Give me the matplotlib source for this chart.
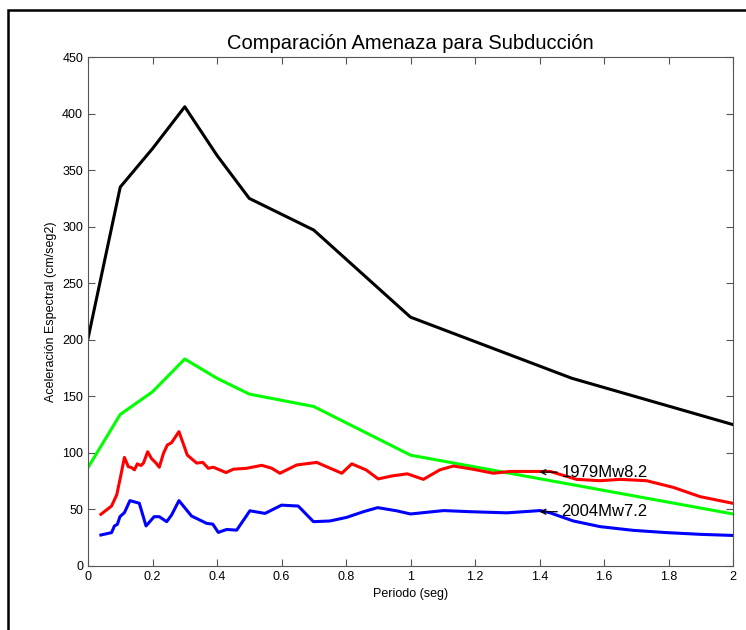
import numpy as np
import matplotlib
matplotlib.use("Agg")
import matplotlib.pyplot as plt
from matplotlib.patches import Rectangle

plt.rcParams['font.family'] = ['Liberation Sans', 'DejaVu Sans']

# espectro de amenaza (negro) y espectro de diseño (verde)
periodo_amenaza = [0.0, 0.1, 0.2, 0.3, 0.4, 0.5, 0.7, 1.0, 1.5, 2.0]
acel_amenaza = [201, 335, 369, 406, 363, 325, 297, 220, 166, 125]

periodo_diseno = [0.0, 0.1, 0.2, 0.3, 0.4, 0.5, 0.7, 1.0, 1.5, 2.0]
acel_diseno = [87, 134, 154, 183, 166, 152, 141, 98, 72, 46]

# registro 1979 Mw8.2
periodo_1979 = [0.040, 0.073, 0.089, 0.101, 0.113, 0.125, 0.135, 0.144, 0.153, 0.164,
                0.172, 0.185, 0.197, 0.211, 0.221, 0.234, 0.246, 0.259, 0.282, 0.308,
                0.337, 0.356, 0.373, 0.389, 0.428, 0.451, 0.492, 0.539, 0.570, 0.595,
                0.647, 0.709, 0.787, 0.818, 0.862, 0.900, 0.942, 0.990, 1.040, 1.091,
                1.133, 1.195, 1.257, 1.309, 1.433, 1.515, 1.588, 1.650, 1.732, 1.815,
                1.898, 2.0]
acel_1979 = [45.7, 53, 62.8, 79, 96, 87.8, 87, 85, 90.3, 88.8,
             91, 101, 95, 91, 87.3, 99.6, 107, 109, 118.8, 98,
             91, 91.6, 86.4, 87.3, 82.6, 85.6, 86.4, 89, 86.4, 82,
             89.3, 91.6, 82, 90.3, 85, 77, 79.6, 81.5, 76.6, 85,
             88.4, 85.5, 82, 83.6, 83.6, 76.6, 75.4, 76.6, 75.4, 69.5,
             61.3, 55.4]

# registro 2004 Mw7.2
periodo_2004 = [0.040, 0.073, 0.082, 0.091, 0.099, 0.113, 0.130, 0.159, 0.180, 0.205,
                0.221, 0.244, 0.259, 0.282, 0.321, 0.368, 0.387, 0.404, 0.430, 0.461,
                0.502, 0.549, 0.600, 0.652, 0.699, 0.750, 0.802, 0.854, 0.898, 0.957,
                1.0, 1.103, 1.185, 1.299, 1.402, 1.433, 1.505, 1.588, 1.691, 1.795,
                1.898, 2.0]
acel_2004 = [27.4, 29.5, 35.4, 36.8, 43.6, 47.2, 57.8, 55.5, 35.4, 43.6,
             43.6, 39.2, 45, 57.8, 44.2, 37.7, 37, 29.7, 32.3, 31.7,
             48.8, 46.5, 53.8, 53, 39.2, 39.8, 43, 48, 51.6, 48.8,
             46, 49, 48, 47, 49, 47, 39.8, 34.8, 31.5, 29.5,
             28, 27]

etiquetas = ['1979Mw8.2', '2004Mw7.2']
pos_etiquetas = [(1.4, 83), (1.4, 48)]

fig = plt.figure(figsize=(7.46, 6.30), dpi=100)
ax = fig.add_axes([88/746, 64/630, 645/746, 509/630])

# marco negro de la figura
fig.patches.append(Rectangle((8/746, -0.1), 1.2, 1 - 10/630 + 0.1, transform=fig.transFigure,
                             fill=False, edgecolor='black', linewidth=1.8))

ax.plot(periodo_amenaza, acel_amenaza, color='black', lw=2.2)
ax.plot(periodo_diseno, acel_diseno, color='#00ff00', lw=2.2)
ax.plot(periodo_1979, acel_1979, color='red', lw=2.2)
ax.plot(periodo_2004, acel_2004, color='blue', lw=2.2)

for txt, (px, py) in zip(etiquetas, pos_etiquetas):
    ax.annotate(txt, xy=(px, py), xytext=(px + 0.068, py), fontsize=12, va='center', ha='left',
                arrowprops=dict(arrowstyle='->,head_length=0.3,head_width=0.15', lw=0.9,
                                color='black', shrinkA=1, shrinkB=0))

ax.set_xlim(0, 2)
ax.set_ylim(0, 450)
ax.set_xticks(np.arange(0, 2.01, 0.2))
ax.set_xticklabels(['0', '0.2', '0.4', '0.6', '0.8', '1', '1.2', '1.4', '1.6', '1.8', '2'])
ax.set_yticks(range(0, 451, 50))
ax.tick_params(direction='in', top=True, right=True, labelsize=9, length=5, color='#555555')
for s in ax.spines.values():
    s.set_color('#555555')

ax.set_title('Comparación Amenaza para Subducción', fontsize=14.5, pad=6)
ax.set_xlabel('Periodo (seg)', fontsize=9)
ax.set_ylabel('Aceleración Espectral (cm/seg2)', fontsize=9)

fig.savefig('out.png', dpi=100)
